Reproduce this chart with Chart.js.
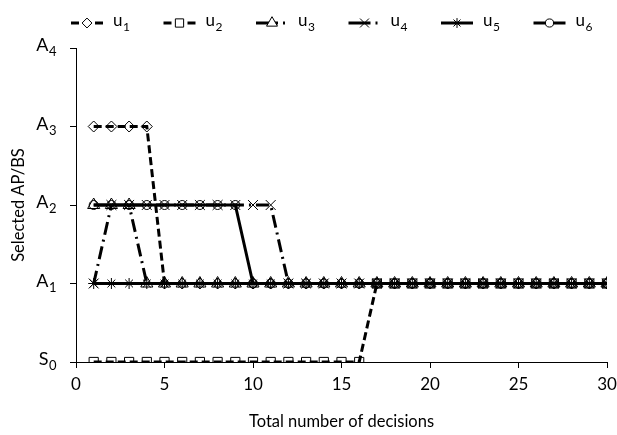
<!DOCTYPE html>
<html>
<head>
<meta charset="utf-8">
<script src="https://cdn.jsdelivr.net/npm/chart.js@4.4.1/dist/chart.umd.min.js"></script>
<style>
  body { margin: 0; background: #fff; }
  #wrap { width: 617px; height: 435px; }
</style>
</head>
<body>
<div id="wrap"><canvas id="decisionChart" width="617" height="435"></canvas></div>
<script>
const decisions = [1,2,3,4,5,6,7,8,9,10,11,12,13,14,15,16,17,18,19,20,21,22,23,24,25,26,27,28,29,30];
const u1 = [3,3,3,3,1,1,1,1,1,1,1,1,1,1,1,1,1,1,1,1,1,1,1,1,1,1,1,1,1,1];
const u2 = [0,0,0,0,0,0,0,0,0,0,0,0,0,0,0,0,1,1,1,1,1,1,1,1,1,1,1,1,1,1];
const u3 = [2,2,2,1,1,1,1,1,1,1,1,1,1,1,1,1,1,1,1,1,1,1,1,1,1,1,1,1,1,1];
const u4 = [1,2,2,2,2,2,2,2,2,2,2,1,1,1,1,1,1,1,1,1,1,1,1,1,1,1,1,1,1,1];
const u5 = [1,1,1,1,1,1,1,1,1,1,1,1,1,1,1,1,1,1,1,1,1,1,1,1,1,1,1,1,1,1];
const u6 = [2,2,2,2,2,2,2,2,2,1,1,1,1,1,1,1,1,1,1,1,1,1,1,1,1,1,1,1,1,1];
// tick labels: letter + subscript
const yLetters = ['S', 'A', 'A', 'A', 'A'];
const ySubs = ['0', '1', '2', '3', '4'];
const seriesNames = ['u', 'u', 'u', 'u', 'u', 'u'];
const seriesSubs = ['1', '2', '3', '4', '5', '6'];

const FONT = 'Lato, "DejaVu Sans", sans-serif';
const dashed = [8, 4];
const dashDot = [13, 5, 2, 5];

const series = [
    { data: u1, style: 'rectRot', dash: dashed, radius: 5.5, legendDash: [8, 4] },
    { data: u2, style: 'rect', dash: dashed, radius: 6.5, legendDash: [8, 4] },
    { data: u3, style: 'triangle', dash: dashDot, radius: 7, legendDash: [22, 5, 2, 20] },
    { data: u4, style: 'crossRot', dash: dashDot, radius: 7, legendDash: [22, 5, 2, 20] },
    { data: u5, style: 'star', dash: [], radius: 5.5, legendDash: [] },
    { data: u6, style: 'circle', dash: [], radius: 4.5, legendDash: [] }
];

// draws "X" with a subscript, right edge or left edge at x
function subText(g, main, sub, x, y, size, align) {
    g.save();
    g.fillStyle = '#000';
    g.textBaseline = 'alphabetic';
    g.textAlign = 'left';
    g.font = size + 'px ' + FONT;
    const wMain = g.measureText(main).width;
    g.font = Math.round(size * 0.72) + 'px ' + FONT;
    const wSub = g.measureText(sub).width;
    const x0 = align === 'right' ? x - wMain - wSub - 1 : x;
    const base = y + size * 0.3;
    g.font = size + 'px ' + FONT;
    g.fillText(main, x0, base);
    g.font = Math.round(size * 0.72) + 'px ' + FONT;
    g.fillText(sub, x0 + wMain + 0.5, base + size * 0.28);
    g.restore();
}

const labelPlugin = {
    id: 'labelPlugin',
    afterDraw(chart) {
        const g = chart.ctx;
        const ys = chart.scales.y;
        yLetters.forEach((l, v) => {
            subText(g, l, ySubs[v], ys.right - 19, ys.getPixelForValue(v) - 2, 18, 'right');
        });
        // legend
        series.forEach((s, i) => {
            const cx = 87 + 92.5 * i;
            const cy = 23;
            g.save();
            g.strokeStyle = '#000';
            g.lineWidth = 3;
            g.setLineDash(s.legendDash);
            g.beginPath();
            g.moveTo(cx - 16, cy);
            g.lineTo(cx + 16, cy);
            g.stroke();
            g.setLineDash([]);
            g.fillStyle = '#fff';
            g.strokeStyle = '#000';
            g.lineWidth = 1;
            Chart.helpers.drawPoint(g, { pointStyle: s.style, radius: s.radius * 0.9, borderWidth: 1 }, cx, cy);
            g.restore();
            subText(g, seriesNames[i], seriesSubs[i], cx + 26, cy - 2, 17, 'left');
        });
    }
};

const ctx = document.getElementById('decisionChart');
new Chart(ctx, {
    type: 'line',
    data: {
        datasets: series.map((s, i) => ({
            label: seriesNames[i] + seriesSubs[i],
            data: s.data.map((v, k) => ({ x: decisions[k], y: v })),
            borderColor: '#000',
            borderWidth: 3,
            borderDash: s.dash,
            pointStyle: s.style,
            pointRadius: s.radius,
            pointBorderWidth: 1,
            pointBorderColor: '#000',
            pointBackgroundColor: 'rgba(255,255,255,0)',
            tension: 0,
            fill: false
        }))
    },
    plugins: [labelPlugin],
    options: {
        responsive: false,
        animation: false,
        layout: { padding: { left: 0, right: 0, top: 48, bottom: 0 } },
        plugins: {
            legend: { display: false },
            tooltip: { enabled: false }
        },
        scales: {
            x: {
                type: 'linear',
                min: 0,
                max: 30,
                ticks: { stepSize: 5, color: '#000', font: { family: FONT, size: 17 }, padding: 6 },
                grid: { drawOnChartArea: false, color: '#000', tickLength: 6 },
                border: { color: '#000', width: 1 },
                title: { display: true, text: 'Total number of decisions', color: '#000', font: { family: FONT, size: 16.5 }, padding: { top: 4, bottom: 3 } },
                afterFit: s => { s.height = 73; s.paddingRight = 10; }
            },
            y: {
                min: 0,
                max: 4,
                ticks: {
                    stepSize: 1,
                    color: 'rgba(0,0,0,0)',
                    font: { family: FONT, size: 17 },
                    padding: 8,
                    callback: v => yLetters[v] + ySubs[v]
                },
                grid: { drawOnChartArea: false, color: '#000', tickLength: 6 },
                border: { color: '#000', width: 1 },
                title: { display: true, text: 'Selected AP/BS', color: '#000', font: { family: FONT, size: 16.5 }, padding: { top: 9, bottom: 4 } },
                afterFit: s => { s.width = 76; }
            }
        }
    }
});
</script>
</body>
</html>
